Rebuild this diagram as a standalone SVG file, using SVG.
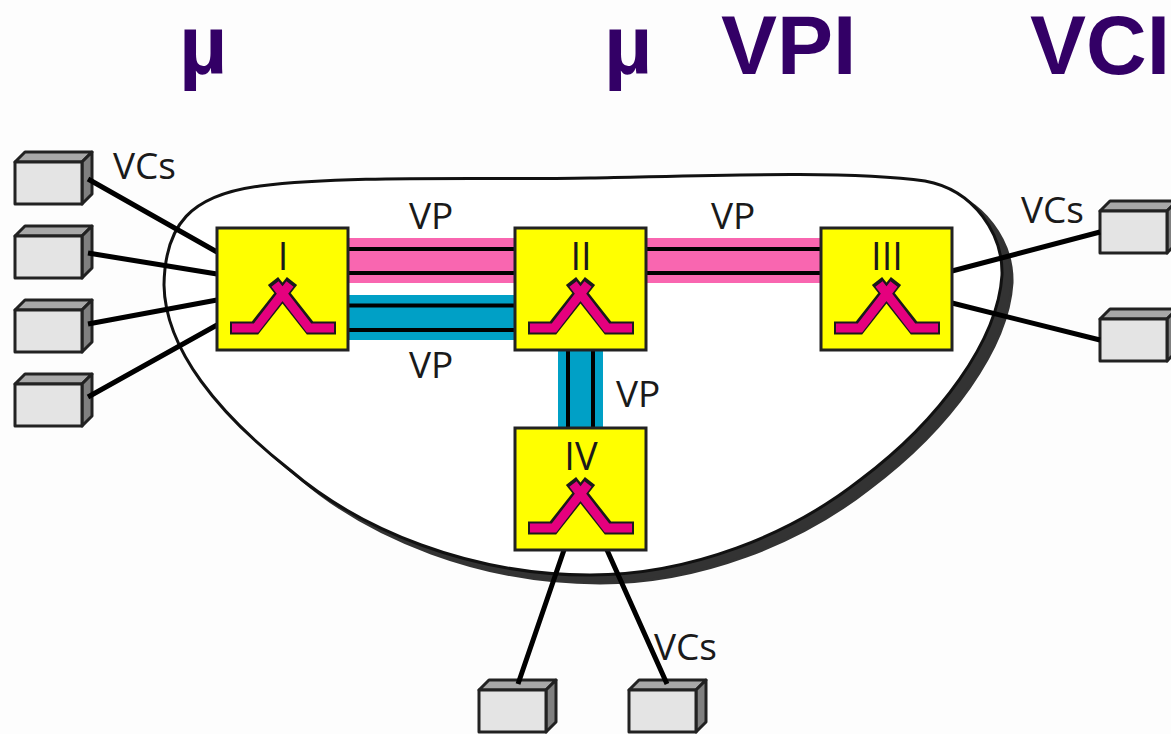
<svg xmlns="http://www.w3.org/2000/svg" width="1171" height="734" viewBox="0 0 1171 734">
<style>
.title{font-family:"Liberation Sans",Arial,sans-serif;font-weight:700;font-size:84px;fill:#330066}
.lab{font-family:"Open Sans","Noto Sans",sans-serif;font-size:37px;fill:#1a1a1a}
.rom{font-family:"Open Sans","Noto Sans",sans-serif;font-size:38px;fill:#1a1a1a;text-anchor:middle}
.wire{stroke:#000;stroke-width:5;fill:none}
.thin{stroke:#000;stroke-width:4;fill:none}
.sw{fill:#ffff00;stroke:#222;stroke-width:3}
.front{fill:#e4e4e4;stroke:#222;stroke-width:3;stroke-linejoin:round}
.top{fill:#a8a8a8;stroke:#222;stroke-width:3;stroke-linejoin:round}
.side{fill:#808080;stroke:#222;stroke-width:3;stroke-linejoin:round}
</style>
<defs>
<path id="cloud" d="M590 178C700 176 845 170 925 181C975 190 1003 235 1002 275C998 340 940 420 860 480C790 535 690 575 590 575C470 575 360 530 290 470C220 415 165 350 164 285C165 225 190 195 260 186C350 175 480 180 590 178Z"/>
<g id="device">
<path class="top" d="M0 10L10 0H77L67 10Z"/>
<path class="side" d="M67 10L77 0V42L67 52Z"/>
<rect class="front" x="0" y="10" width="67" height="42"/>
</g>
<g id="cross">
<path d="M13 100H38L75 53M119 100H93L56 53" fill="none" stroke="#1a1a1a" stroke-width="13"/>
<path d="M15 100H39L73 56M117 100H92L58 56" fill="none" stroke="#e5007e" stroke-width="9"/>
</g>
</defs>
<rect width="1171" height="734" fill="#fdfdfd"/>
<g id="titles">
<text class="title" x="179" y="74">µ</text>
<text class="title" x="604" y="74">µ</text>
<text class="title" x="721" y="74">VPI</text>
<text class="title" x="1030" y="74">VCI</text>
</g>
<g id="network-cloud">
<use href="#cloud" transform="translate(10 8)" fill="#333" stroke="#333" stroke-width="3"/>
<use href="#cloud" fill="#fff" stroke="#111" stroke-width="3"/>
</g>
<g id="device-1"><use href="#device" x="15" y="152"/></g>
<g id="device-2"><use href="#device" x="15" y="226"/></g>
<g id="device-3"><use href="#device" x="15" y="300"/></g>
<g id="device-4"><use href="#device" x="15" y="374"/></g>
<g id="device-5"><use href="#device" x="1100" y="201"/></g>
<g id="device-6"><use href="#device" x="1100" y="309"/></g>
<g id="device-7"><use href="#device" x="479" y="680"/></g>
<g id="device-8"><use href="#device" x="629" y="680"/></g>
<g id="connectors">
<path fill="#f966b0" d="M348 238H515V283H348ZM646 238H821V283H646Z"/>
<path fill="#00a0c6" d="M348 295H515V340H348ZM558 350H603V428H558Z"/>
<path class="thin" d="M348 249H515M348 273H515M646 249H821M646 273H821M348 305.500H515M348 330H515M568 350V428M593 350V428"/>
<path class="wire" d="M88 179L217 252M88 253L217 274M88 324L217 300M88 397L217 325M952 271L1100 232M952 303L1100 340M564 550L518 684M607 550L667 684"/>
</g>
<g id="switch-I"><rect class="sw" x="217" y="228" width="131" height="122"/><use href="#cross" x="217" y="228"/><text class="rom" x="283" y="270">I</text></g>
<g id="switch-II"><rect class="sw" x="515" y="228" width="131" height="122"/><use href="#cross" x="515" y="228"/><text class="rom" x="581" y="270">II</text></g>
<g id="switch-III"><rect class="sw" x="821" y="228" width="131" height="122"/><use href="#cross" x="821" y="228"/><text class="rom" x="887" y="270">III</text></g>
<g id="switch-IV"><rect class="sw" x="515" y="428" width="131" height="122"/><use href="#cross" x="515" y="428"/><text class="rom" x="581" y="470">IV</text></g>
<g id="labels">
<text class="lab" x="113" y="179">VCs</text>
<text class="lab" x="1021" y="223">VCs</text>
<text class="lab" x="654" y="660">VCs</text>
<text class="lab" x="409" y="229">VP</text>
<text class="lab" x="711" y="229">VP</text>
<text class="lab" x="409" y="378">VP</text>
<text class="lab" x="616" y="407">VP</text>
</g>
</svg>
